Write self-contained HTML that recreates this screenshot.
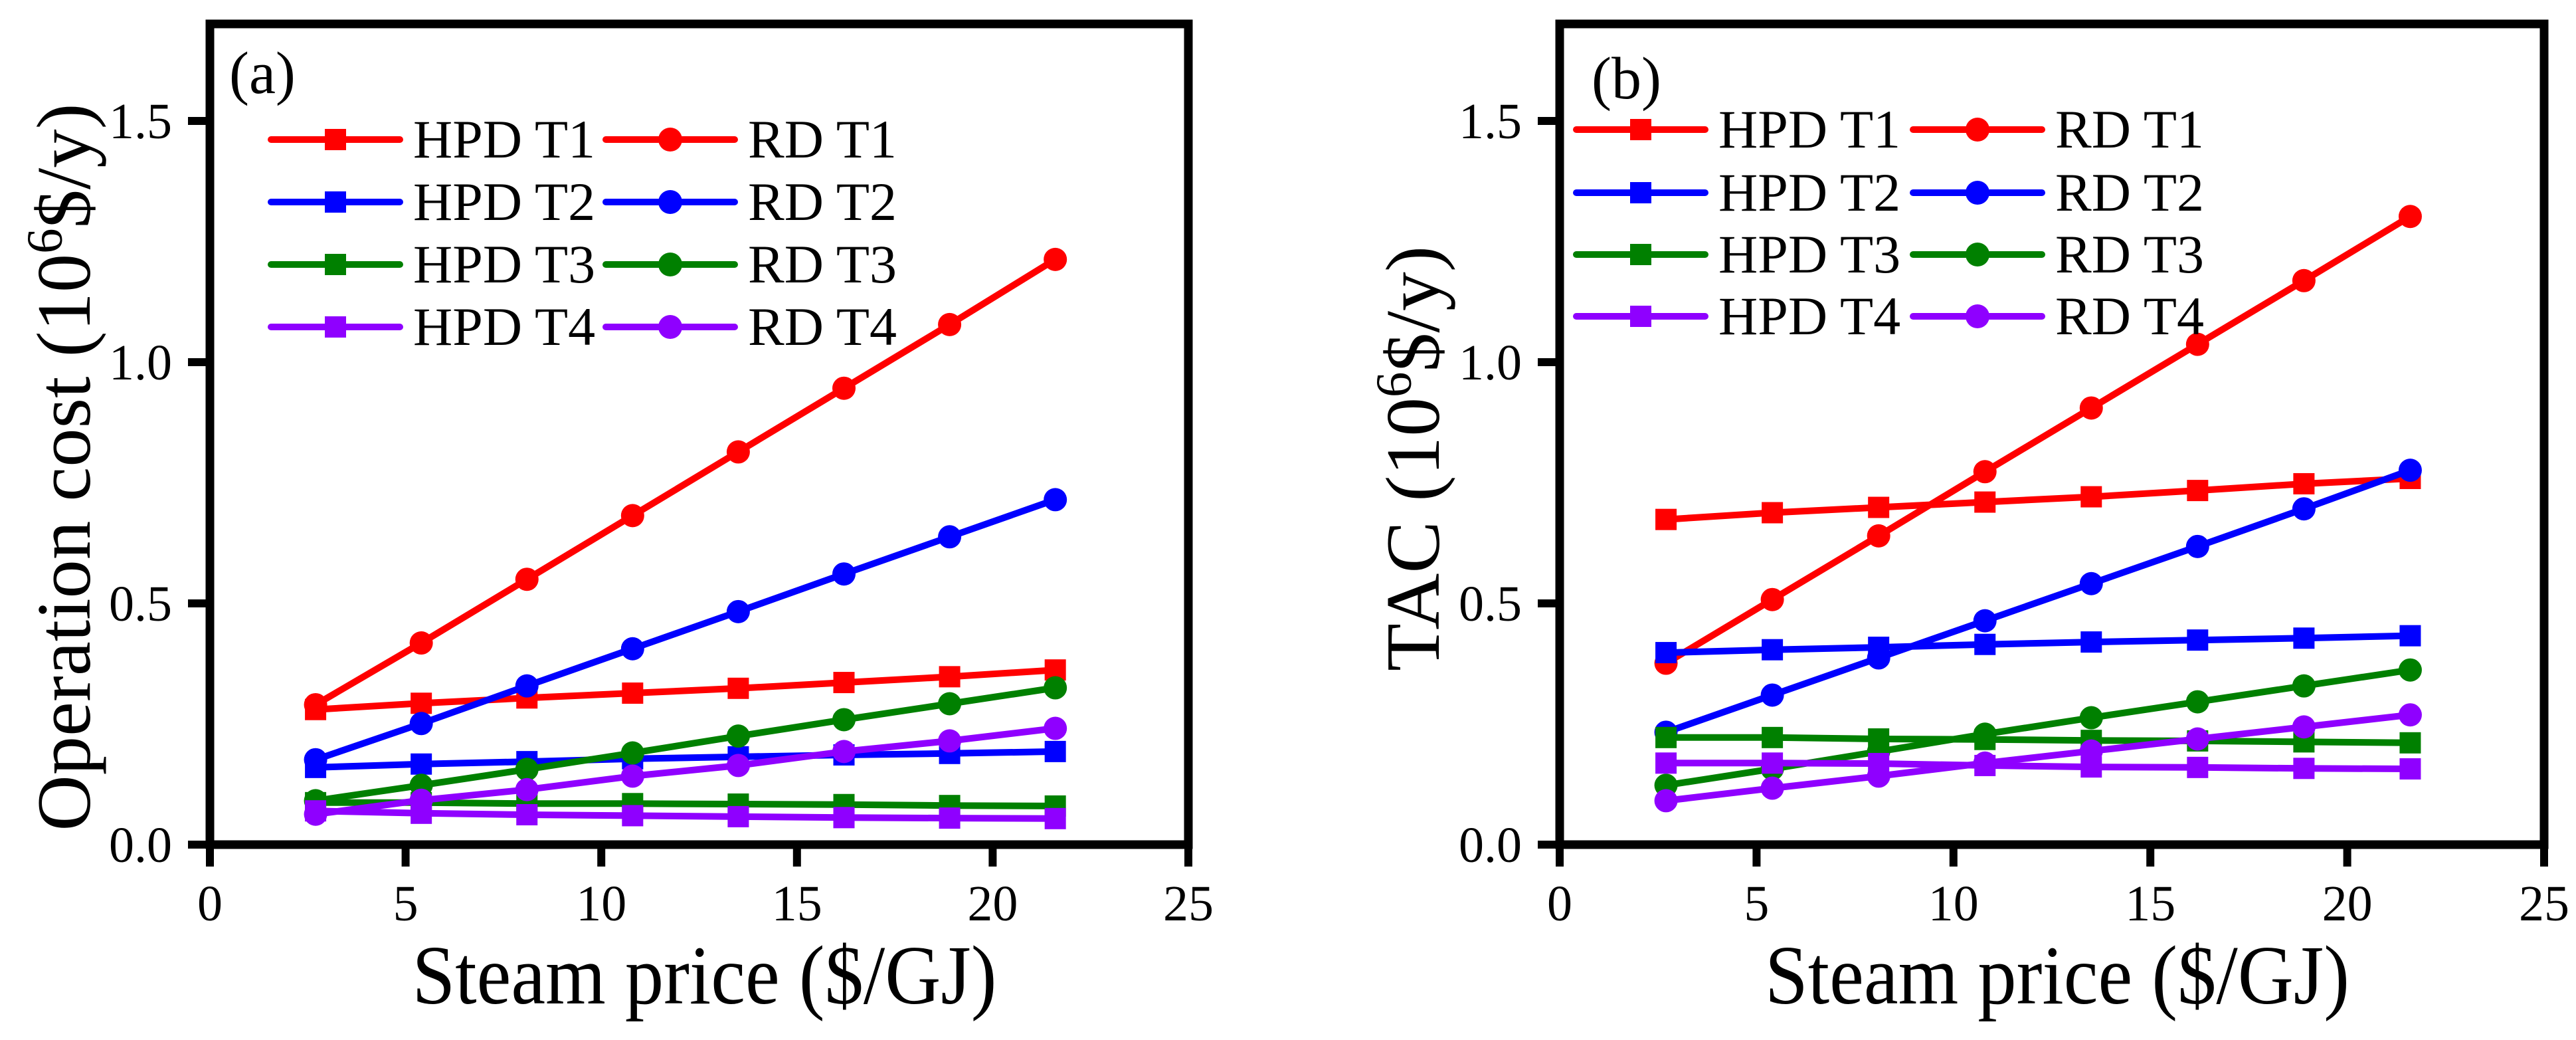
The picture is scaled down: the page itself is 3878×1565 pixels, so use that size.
<!DOCTYPE html>
<html><head><meta charset="utf-8"><style>
html,body{margin:0;padding:0;background:#fff;}
svg{display:block;font-family:"Liberation Serif","DejaVu Serif",serif;}
</style></head><body>
<svg id="chart" width="3878" height="1565" viewBox="0 0 3878 1565" xmlns="http://www.w3.org/2000/svg"></svg>
<script>
const xValues = [2.7, 5.4, 8.1, 10.8, 13.5, 16.2, 18.9, 21.6];
const xTicks = [0, 5, 10, 15, 20, 25];
const yTicks = [0.0, 0.5, 1.0, 1.5];
const yTickLabels = ["0.0", "0.5", "1.0", "1.5"];
const seriesNames = ["HPD T1", "RD T1", "HPD T2", "RD T2", "HPD T3", "RD T3", "HPD T4", "RD T4"];
// Panel (a) operation cost
const opHPD1 = [0.28, 0.293, 0.304, 0.314, 0.324, 0.336, 0.348, 0.362];
const opRD1 = [0.29, 0.418, 0.55, 0.682, 0.814, 0.946, 1.078, 1.213];
const opHPD2 = [0.16, 0.167, 0.172, 0.178, 0.182, 0.186, 0.189, 0.193];
const opRD2 = [0.176, 0.251, 0.329, 0.406, 0.483, 0.561, 0.638, 0.715];
const opHPD3 = [0.087, 0.087, 0.085, 0.085, 0.084, 0.083, 0.081, 0.08];
const opRD3 = [0.091, 0.123, 0.156, 0.19, 0.225, 0.259, 0.292, 0.325];
const opHPD4 = [0.07, 0.065, 0.062, 0.06, 0.058, 0.056, 0.055, 0.054];
const opRD4 = [0.063, 0.092, 0.114, 0.142, 0.164, 0.193, 0.215, 0.241];
// Panel (b) TAC
const tacHPD1 = [0.674, 0.688, 0.699, 0.71, 0.721, 0.734, 0.748, 0.759];
const tacRD1 = [0.376, 0.508, 0.64, 0.773, 0.905, 1.037, 1.169, 1.302];
const tacHPD2 = [0.398, 0.404, 0.409, 0.415, 0.42, 0.424, 0.428, 0.433];
const tacRD2 = [0.233, 0.31, 0.387, 0.464, 0.541, 0.618, 0.696, 0.776];
const tacHPD3 = [0.222, 0.222, 0.219, 0.218, 0.216, 0.215, 0.213, 0.211];
const tacRD3 = [0.123, 0.157, 0.193, 0.229, 0.263, 0.296, 0.329, 0.362];
const tacHPD4 = [0.169, 0.169, 0.168, 0.164, 0.161, 0.16, 0.158, 0.157];
const tacRD4 = [0.091, 0.117, 0.142, 0.169, 0.194, 0.219, 0.244, 0.269];

const colors = ["#ff0000","#ff0000","#0000ff","#0000ff","#008000","#008000","#8f00ff","#8f00ff"];
const NS = "http://www.w3.org/2000/svg";
const svg = document.getElementById("chart");
function mk(tag, attrs, parent){const e=document.createElementNS(NS,tag);for(const k in attrs)e.setAttribute(k,attrs[k]);(parent||svg).appendChild(e);return e;}

function panel(cfg){
  const g = mk("g",{});
  
  
  const X0=cfg.x0, X1=cfg.x1, Y0=1271, YT=36, yPer=726;
  const sx = v => X0 + (X1-X0)*v/25;
  const sy = v => Y0 - v*yPer;
  cfg.data.forEach((arr,i)=>{
    const sg = mk("g",{},g);
    
    
    const pts = arr.map((v,j)=>sx(xValues[j]).toFixed(1)+","+sy(v).toFixed(1)).join(" ");
    mk("polyline",{points:pts,fill:"none",stroke:colors[i],"stroke-width":10,"stroke-linejoin":"round","stroke-linecap":"round"},sg);
    arr.forEach((v,j)=>{
      let m;
      if(i%2===0) m=mk("rect",{x:sx(xValues[j])-16,y:sy(v)-16,width:32,height:32,fill:colors[i]},sg);
      else m=mk("circle",{cx:sx(xValues[j]),cy:sy(v),r:17.5,fill:colors[i]},sg);
      
      
    });
  });
  const fr = mk("rect",{x:X0,y:YT,width:X1-X0,height:Y0-YT,fill:"none",stroke:"#000","stroke-width":13},g);
  
  
  xTicks.forEach(t=>{
    const x=sx(t);
    mk("line",{x1:x,y1:Y0,x2:x,y2:Y0+33,stroke:"#000","stroke-width":12},g);
    const tl=mk("text",{x:x,y:1385,"font-size":76,"text-anchor":"middle"},g);
    tl.textContent=String(t);
    
    
  });
  yTicks.forEach((t,i)=>{
    const y=sy(t);
    mk("line",{x1:X0-33,y1:y,x2:X0,y2:y,stroke:"#000","stroke-width":12},g);
    const tl=mk("text",{x:X0-57,y:y+26,"font-size":76,"text-anchor":"end"},g);
    tl.textContent=yTickLabels[i];
    
    
  });
  const xt=mk("text",{x:(X0+X1)/2+8,y:1510,"font-size":126,"text-anchor":"middle",textLength:880,lengthAdjust:"spacingAndGlyphs"},g);
  xt.textContent="Steam price ($/GJ)";
  
  
  const yt=mk("text",{transform:`translate(${cfg.ytx},${cfg.ytc}) rotate(-90)`,"font-size":116,"text-anchor":"middle",textLength:cfg.ytl,lengthAdjust:"spacingAndGlyphs"},g);
  
  
  const t1=mk("tspan",{},yt); t1.textContent=cfg.ytitle+" (10";
  const t2=mk("tspan",{dy:-42,"font-size":76},yt); t2.textContent="6";
  const t3=mk("tspan",{dy:42},yt); t3.textContent="$/y)";
  const pl=mk("text",{x:cfg.lx,y:cfg.ly,"font-size":90},g);
  pl.textContent=cfg.label;
  
  
  const lg=mk("g",{},g);
  
  
  seriesNames.forEach((n,i)=>{
    const row=Math.floor(i/2), col=i%2;
    const y=cfg.legY[row];
    const lx=cfg.legX[col];
    const e=mk("g",{},lg);
    
    
    mk("line",{x1:lx,y1:y,x2:lx+194,y2:y,stroke:colors[i],"stroke-width":10,"stroke-linecap":"round"},e);
    if(col===0) mk("rect",{x:lx+97-16,y:y-16,width:32,height:32,fill:colors[i]},e);
    else mk("circle",{cx:lx+97,cy:y,r:18,fill:colors[i]},e);
    const tx=mk("text",{x:lx+214,y:y+27,"font-size":82},e);
    tx.textContent=n;
  });
}
panel({id:"panel-a-operation-cost",x0:316,x1:1789,data:[opHPD1,opRD1,opHPD2,opRD2,opHPD3,opRD3,opHPD4,opRD4],
  ytitle:"Operation cost",ytx:135,ytc:703,ytl:1095,label:"(a)",lx:345,ly:140,legX:[408,912],legY:[210,304,398,492]});
panel({id:"panel-b-tac",x0:2348,x1:3830,data:[tacHPD1,tacRD1,tacHPD2,tacRD2,tacHPD3,tacRD3,tacHPD4,tacRD4],
  ytitle:"TAC",ytx:2166,ytc:690,ytl:640,label:"(b)",lx:2396,ly:148,legX:[2373,2880],legY:[195,290,383,476]});
</script>
</body></html>
